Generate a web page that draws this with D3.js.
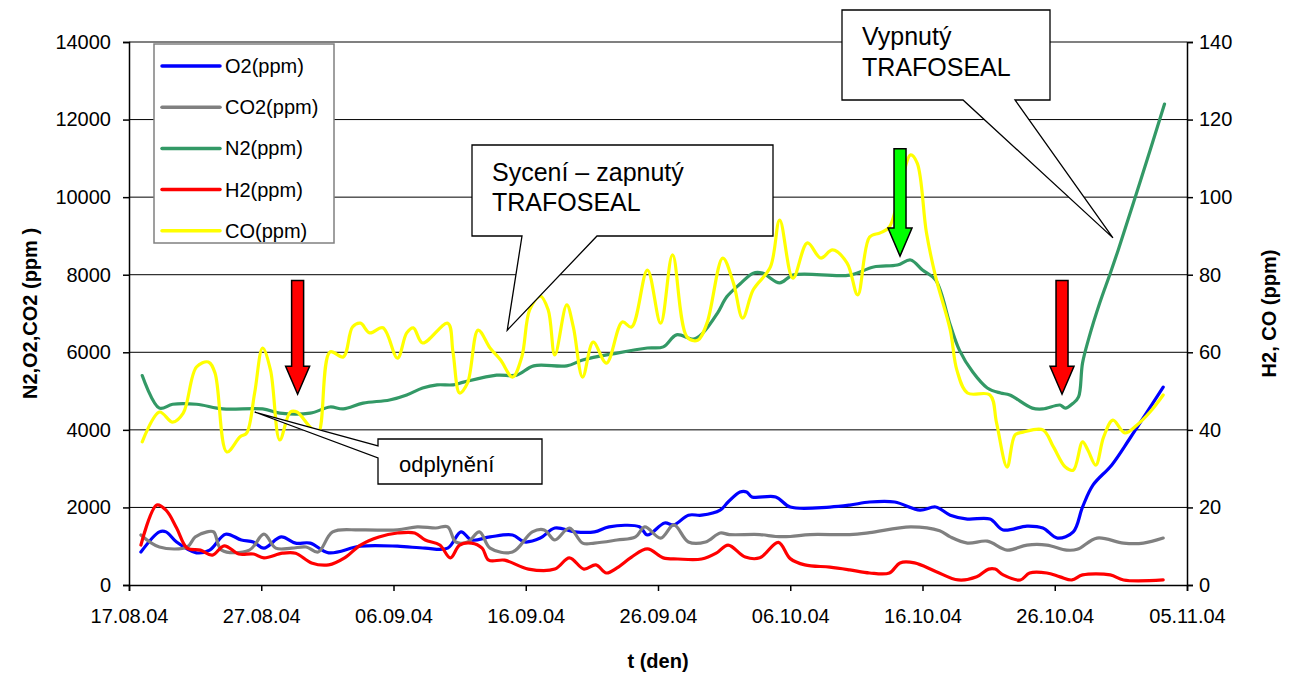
<!DOCTYPE html>
<html>
<head>
<meta charset="utf-8">
<script src="https://cdn.jsdelivr.net/npm/d3@7"></script>
<style>
  body { margin: 0; background: #fff; }
  svg { display: block; }
  text { font-family: "Liberation Sans", Arial, sans-serif; fill: #000; }
</style>
</head>
<body>
<div id="chart"></div>
<script>
// data (day = days after 17.08.04)
var startDate = new Date(2004, 7, 17);
var tickLabels = ["17.08.04", "27.08.04", "06.09.04", "16.09.04", "26.09.04",
                  "06.10.04", "16.10.04", "26.10.04", "05.11.04"];
var leftTicks = [0, 2000, 4000, 6000, 8000, 10000, 12000, 14000];
var rightTicks = [0, 20, 40, 60, 80, 100, 120, 140];

var o2Days = [0.9, 2.3, 2.8, 3.6, 5.1, 6.1, 7.3, 8.5, 9.4, 10.2, 11.5, 12.6, 13.7, 15.1, 17.5, 20.3, 22.4, 24.1, 25.1, 25.9, 27.3, 29.0, 29.9, 31.1, 32.2, 33.7, 35.2, 36.3, 38.6, 39.2, 40.5, 41.2, 42.3, 43.3, 44.7, 45.3, 46.2, 46.7, 47.1, 48.9, 50.0, 53.0, 54.5, 56.0, 57.9, 59.8, 61.0, 62.1, 63.4, 65.1, 66.1, 67.9, 69.1, 70.2, 71.4, 72.1, 72.9, 74.3, 75.7, 78.2];
var o2Vals = [850, 1370, 1370, 1110, 830, 900, 1310, 1160, 1110, 950, 1240, 1080, 1080, 830, 1000, 1000, 950, 950, 1370, 1160, 1240, 1290, 1110, 1210, 1470, 1370, 1370, 1500, 1500, 1290, 1600, 1550, 1800, 1800, 1930, 2140, 2400, 2400, 2270, 2270, 2010, 2010, 2060, 2140, 2140, 1930, 2010, 1800, 1700, 1700, 1420, 1520, 1470, 1210, 1370, 2010, 2580, 3090, 3790, 5100];

var co2Days = [0.9, 2.3, 4.4, 5.0, 5.9, 6.4, 7.0, 9.1, 10.2, 11.1, 12.3, 13.4, 14.3, 15.4, 17.5, 20.3, 21.8, 23.2, 24.1, 24.7, 25.6, 26.5, 27.3, 29.0, 30.5, 31.4, 32.2, 33.3, 34.3, 35.2, 36.9, 38.3, 39.0, 40.2, 41.2, 42.3, 43.6, 44.7, 45.4, 47.7, 48.9, 50.0, 51.5, 54.5, 56.0, 59.1, 61.3, 62.1, 63.4, 64.9, 66.4, 67.9, 69.4, 70.9, 71.7, 73.2, 75.2, 76.7, 78.2];
var co2Vals = [1290, 980, 980, 1240, 1370, 1370, 900, 900, 1310, 950, 950, 980, 850, 1370, 1420, 1420, 1500, 1470, 1500, 1110, 1110, 1370, 950, 850, 1370, 1420, 1160, 1470, 1080, 1080, 1160, 1240, 1500, 1210, 1550, 1110, 1110, 1340, 1300, 1300, 1250, 1250, 1300, 1300, 1350, 1500, 1400, 1240, 1080, 1130, 900, 1030, 1030, 900, 920, 1210, 1080, 1080, 1210];

var n2Days = [1.0, 2.3, 3.3, 5.1, 7.1, 10.1, 11.4, 13.7, 15.2, 16.2, 17.7, 19.7, 21.0, 22.2, 23.3, 24.5, 25.3, 27.8, 29.3, 30.6, 33.1, 34.3, 36.9, 39.2, 40.4, 41.4, 42.7, 43.4, 44.5, 45.2, 46.2, 47.2, 47.9, 49.2, 50.2, 54.5, 56.3, 58.1, 59.1, 60.0, 61.0, 62.1, 62.8, 63.8, 64.9, 65.9, 66.6, 68.3, 69.1, 70.4, 70.8, 71.4, 71.8, 72.1, 72.6, 73.4, 74.2, 74.8, 76.5, 78.3];
var n2Vals = [5400, 4560, 4660, 4660, 4540, 4540, 4430, 4430, 4590, 4540, 4690, 4770, 4900, 5080, 5160, 5160, 5230, 5410, 5410, 5650, 5650, 5800, 5980, 6110, 6140, 6450, 6340, 6500, 7010, 7430, 7760, 8040, 8040, 7790, 7990, 7990, 8200, 8250, 8380, 8120, 7860, 6700, 6050, 5490, 5080, 4950, 4900, 4560, 4540, 4640, 4560, 4690, 4850, 5720, 6390, 7270, 8040, 8640, 10440, 12400];

var h2Days = [0.9, 2.1, 2.8, 3.6, 4.4, 5.4, 6.3, 7.2, 8.3, 9.4, 10.2, 11.6, 12.6, 13.8, 15.1, 16.3, 17.5, 18.9, 20.3, 21.6, 22.4, 23.5, 24.3, 25.0, 25.9, 26.7, 27.2, 28.4, 30.2, 32.2, 33.3, 34.4, 35.3, 36.1, 36.9, 38.0, 39.2, 40.4, 41.5, 43.3, 44.4, 45.3, 46.6, 47.7, 49.1, 50.0, 51.1, 53.0, 54.5, 56.0, 57.5, 58.3, 59.4, 61.0, 62.7, 64.1, 65.0, 65.5, 66.1, 67.4, 68.1, 69.4, 70.4, 71.3, 72.1, 74.2, 75.2, 78.2];
var h2Vals = [10.3, 20.6, 19.3, 14.7, 9.5, 9.0, 7.7, 10.1, 8.0, 8.0, 7.0, 8.2, 8.2, 5.7, 5.2, 7.0, 10.3, 12.4, 13.4, 13.4, 11.6, 10.3, 7.0, 10.3, 10.8, 9.5, 6.4, 6.4, 4.1, 4.1, 7.0, 4.1, 5.2, 3.1, 4.4, 7.2, 9.3, 7.0, 6.7, 6.7, 8.2, 10.3, 7.2, 7.0, 11.0, 6.8, 5.2, 4.6, 3.9, 3.1, 3.1, 5.7, 5.7, 3.5, 1.3, 2.1, 4.1, 4.1, 2.6, 1.3, 3.1, 3.1, 2.1, 1.3, 2.6, 2.6, 1.3, 1.3];

var coDays = [1.0, 2.3, 3.3, 4.1, 5.1, 6.0, 6.5, 7.4, 8.4, 8.9, 9.5, 10.1, 10.7, 11.4, 12.2, 12.7, 13.7, 14.3, 15.2, 16.2, 16.9, 17.5, 18.2, 19.2, 20.3, 21.0, 21.5, 22.2, 24.1, 24.5, 25.0, 25.6, 26.4, 27.3, 28.1, 29.0, 29.7, 30.3, 31.1, 31.7, 32.2, 33.1, 33.6, 34.3, 35.1, 36.1, 37.3, 38.0, 39.2, 40.2, 41.1, 42.2, 43.0, 43.7, 44.9, 45.7, 46.4, 47.2, 48.5, 49.2, 50.2, 51.3, 52.3, 53.2, 54.3, 55.1, 56.0, 56.8, 57.5, 59.1, 59.6, 60.3, 61.0, 62.1, 62.6, 63.4, 65.1, 65.6, 66.4, 67.0, 67.6, 69.1, 69.9, 70.8, 71.4, 72.1, 72.5, 73.1, 73.7, 74.4, 75.3, 76.2, 77.2, 78.2];
var coVals = [36.9, 44.6, 42.0, 44.3, 56.2, 57.5, 54.7, 34.3, 38.2, 39.2, 49.5, 61.1, 55.4, 37.4, 44.6, 44.6, 40.7, 39.2, 60.1, 58.8, 66.5, 67.5, 65.0, 66.3, 58.5, 65.0, 66.3, 62.4, 67.5, 60.0, 49.5, 52.1, 65.7, 61.1, 58.0, 53.6, 58.8, 71.0, 74.5, 70.9, 59.3, 72.2, 66.5, 53.6, 62.6, 57.2, 67.8, 66.5, 81.2, 67.5, 85.1, 63.9, 63.1, 67.5, 84.3, 77.9, 68.8, 76.1, 82.0, 94.1, 79.1, 88.2, 84.3, 86.4, 83.0, 74.8, 89.7, 90.8, 92.3, 110.9, 108.8, 90.8, 79.4, 65.7, 55.4, 49.5, 49.0, 41.8, 30.4, 38.7, 39.4, 40.0, 35.6, 30.4, 29.6, 36.9, 34.8, 30.9, 38.2, 42.5, 39.2, 41.2, 44.6, 49.0];

var seriesNames = ["O2(ppm)", "CO2(ppm)", "N2(ppm)", "H2(ppm)", "CO(ppm)"];
var seriesColors = ["#0000ff", "#808080", "#339966", "#ff0000", "#ffff00"];

// chart
var width = 1290, height = 678;
var plot = { left: 129, right: 1187, top: 42, bottom: 585 };

var svg = d3.select("#chart").append("svg")
  .attr("width", width)
  .attr("height", height);

function dayToDate(d) {
  return new Date(startDate.getTime() + d * 864e5);
}
var parseTick = d3.timeParse("%d.%m.%y");

var x = d3.scaleTime()
  .domain([parseTick(tickLabels[0]), parseTick(tickLabels[tickLabels.length - 1])])
  .range([plot.left, plot.right]);
var yLeft = d3.scaleLinear().domain([0, 14000]).range([plot.bottom, plot.top]);
var yRight = d3.scaleLinear().domain([0, 140]).range([plot.bottom, plot.top]);

// gridlines
svg.append("g").selectAll("line")
  .data(leftTicks.filter(function(t) { return t > 0; }))
  .enter().append("line")
  .attr("x1", plot.left).attr("x2", plot.right)
  .attr("y1", function(d) { return yLeft(d); })
  .attr("y2", function(d) { return yLeft(d); })
  .attr("stroke", function(d) { return d === 14000 ? "#808080" : "#000"; })
  .attr("stroke-width", function(d) { return d === 14000 ? 2 : 1; });

// axes
var fontSize = 20;
var gx = svg.append("g")
  .attr("transform", "translate(0," + plot.bottom + ")")
  .call(d3.axisBottom(x)
    .tickValues(tickLabels.map(parseTick))
    .tickFormat(d3.timeFormat("%d.%m.%y"))
    .tickSizeOuter(0).tickSize(6).tickPadding(18));

var gl = svg.append("g")
  .attr("transform", "translate(" + plot.left + ",0)")
  .call(d3.axisLeft(yLeft).tickValues(leftTicks).tickFormat(d3.format("d"))
    .tickSizeOuter(0).tickSize(6).tickPadding(12));

var gr = svg.append("g")
  .attr("transform", "translate(" + plot.right + ",0)")
  .call(d3.axisRight(yRight).tickValues(rightTicks).tickFormat(d3.format("d"))
    .tickSizeOuter(0).tickSize(6).tickPadding(6));

[gx, gl, gr].forEach(function(g) {
  g.selectAll("text").style("font-size", fontSize + "px")
    .style("font-family", '"Liberation Sans", Arial, sans-serif').attr("fill", "#000");
  g.selectAll("line, path").attr("stroke", "#000").attr("stroke-width", 1.5);
});

// axis titles
svg.append("text")
  .attr("transform", "translate(37," + ((plot.top + plot.bottom) / 2) + ") rotate(-90)")
  .attr("text-anchor", "middle")
  .style("font-size", "20px").style("font-weight", "bold")
  .text("N2,O2,CO2 (ppm )");

svg.append("text")
  .attr("transform", "translate(1276," + ((plot.top + plot.bottom) / 2) + ") rotate(-90)")
  .attr("text-anchor", "middle")
  .style("font-size", "20px").style("font-weight", "bold")
  .text("H2, CO (ppm)");

svg.append("text")
  .attr("x", (plot.left + plot.right) / 2)
  .attr("y", 668)
  .attr("text-anchor", "middle")
  .style("font-size", "20px").style("font-weight", "bold")
  .text("t (den)");

// series
var series = [
  { days: o2Days, vals: o2Vals, y: yLeft },
  { days: co2Days, vals: co2Vals, y: yLeft },
  { days: n2Days, vals: n2Vals, y: yLeft },
  { days: h2Days, vals: h2Vals, y: yRight },
  { days: coDays, vals: coVals, y: yRight }
];

series.forEach(function(s, i) {
  var pts = s.days.map(function(d, j) { return [dayToDate(d), s.vals[j]]; });
  var line = d3.line()
    .x(function(p) { return x(p[0]); })
    .y(function(p) { return s.y(p[1]); })
    .curve(d3.curveCatmullRom.alpha(0.5));
  svg.append("path")
    .datum(pts)
    .attr("d", line)
    .attr("fill", "none")
    .attr("stroke", seriesColors[i])
    .attr("stroke-width", 3.2)
    .attr("stroke-linejoin", "round")
    .attr("stroke-linecap", "round");
});

// legend
var legend = svg.append("g");
legend.append("rect")
  .attr("x", 154).attr("y", 44).attr("width", 180).attr("height", 199)
  .attr("fill", "#fff").attr("stroke", "#808080").attr("stroke-width", 1.5);
seriesNames.forEach(function(name, i) {
  var yy = 66 + i * 41.2;
  legend.append("line")
    .attr("x1", 162).attr("x2", 220).attr("y1", yy).attr("y2", yy)
    .attr("stroke", seriesColors[i]).attr("stroke-width", 3.5)
    .attr("stroke-linecap", "round");
  legend.append("text")
    .attr("x", 225).attr("y", yy).attr("dy", "0.35em")
    .style("font-size", "20px")
    .text(name);
});

// block arrows (tip in data units)
var arrows = [
  { day: 12.75, top: 7850, tip: 4920, color: "#ff0000" },
  { day: 58.3, top: 11250, tip: 8480, color: "#00ff00" },
  { day: 70.55, top: 7850, tip: 4920, color: "#ff0000" }
];
arrows.forEach(function(a) {
  var cx = x(dayToDate(a.day)), y0 = yLeft(a.top), y1 = yLeft(a.tip);
  var hb = y1 - 28;
  var p = d3.path();
  p.moveTo(cx - 6, y0); p.lineTo(cx + 6, y0); p.lineTo(cx + 6, hb);
  p.lineTo(cx + 12, hb); p.lineTo(cx, y1); p.lineTo(cx - 12, hb);
  p.lineTo(cx - 6, hb); p.closePath();
  svg.append("path").attr("d", p.toString())
    .attr("fill", a.color).attr("stroke", "#000").attr("stroke-width", 1.5);
});

// callouts
function callout(pathStr, lines, tx, ty, size, lh) {
  var g = svg.append("g");
  g.append("path").attr("d", pathStr)
    .attr("fill", "#fff").attr("stroke", "#000").attr("stroke-width", 1.3);
  lines.forEach(function(t, i) {
    g.append("text").attr("x", tx).attr("y", ty + i * lh)
      .style("font-size", size + "px").text(t);
  });
}

var tip1 = [x(dayToDate(28.6)), yLeft(6570)];
callout("M472,145H773V236H597L" + tip1[0] + "," + tip1[1] + "L522,236H472Z",
  ["Sycení – zapnutý", "TRAFOSEAL"], 492, 181, 25, 30);

var tip2 = [x(dayToDate(74.4)), yLeft(8950)];
callout("M842,10H1050V100H1015L" + tip2[0] + "," + tip2[1] + "L963,100H842Z",
  ["Vypnutý", "TRAFOSEAL"], 862, 45, 25, 31);

var tip3 = [x(dayToDate(9.5)), yLeft(4460)];
callout("M378,439H542V484H378V458L" + tip3[0] + "," + tip3[1] + "L378,446Z",
  ["odplynění"], 399, 472, 22, 0);
</script>
</body>
</html>
